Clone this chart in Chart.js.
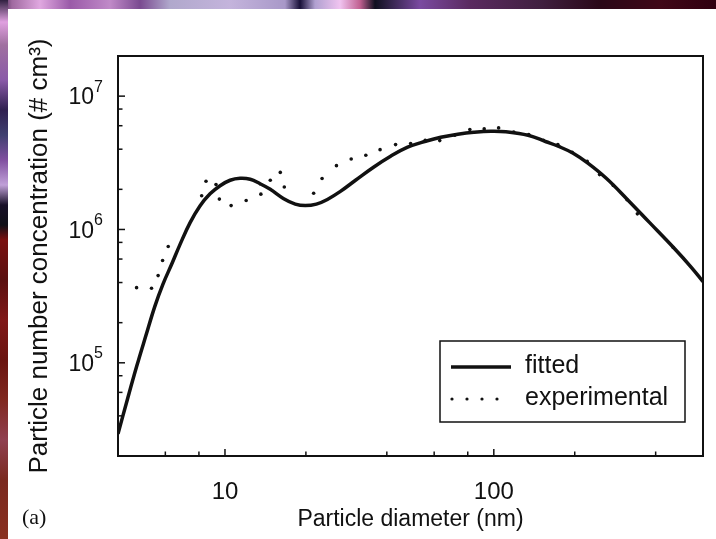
<!DOCTYPE html>
<html>
<head>
<meta charset="utf-8">
<script src="https://cdn.jsdelivr.net/npm/chart.js@4.4.1/dist/chart.umd.min.js"></script>
<style>
  html, body { margin: 0; padding: 0; }
  body {
    width: 716px; height: 539px; position: relative; overflow: hidden;
    background: #fff;
  }
  /* scanner edge along the top and left of the page */
  #edgeTop {
    position: absolute; left: 0; top: 0; width: 716px; height: 9px;
    background: linear-gradient(to right,
      #3a2048 0px, #a06aa0 12px, #e0a8e0 40px, #9a5aa8 70px, #c08ac8 110px, #7a4a90 140px,
      #b0a8cc 170px, #c4b4dc 230px, #a898c8 285px, #181038 300px, #b0a0d0 315px, #f0c4f0 340px,
      #c06090 360px, #101020 375px, #7a4aa0 420px, #5a2a60 470px, #402040 540px,
      #2a0818 600px, #400818 660px, #300010 716px);
  }
  #edgeLeft {
    position: absolute; left: 0; top: 0; width: 8px; height: 539px;
    background: linear-gradient(to bottom,
      #302040 0px, #e0a0e0 22px, #a070a0 45px, #8a5aa8 80px, #302050 110px, #404070 135px,
      #8050a0 160px, #c0a0d8 185px, #181028 205px, #101018 225px, #7a1010 240px,
      #5a1010 280px, #801818 320px, #6a1410 360px, #802820 400px, #904050 440px,
      #7a2a20 480px, #8a3020 539px);
  }
  #plot {
    position: absolute; left: 8px; top: 9px; width: 708px; height: 530px;
    background: #fff;
  }
</style>
</head>
<body>
<div id="edgeTop"></div>
<div id="edgeLeft"></div>
<div id="plot"><canvas id="sizeChart"></canvas></div>
<script>
// fitted size distribution (diameter in nm, number concentration in # cm^-3)
const fitDiameter = [4, 4.35, 4.7, 5.08, 5.48, 5.87, 6.35, 6.8, 7.41, 8.07, 8.8, 9.59, 10.45, 11.38,
    12.41, 13.52, 14.74, 16.48, 18.26, 19.9, 21.88, 24.04, 26.88, 30.59, 35.69, 41.31, 47.81,
    55.8, 63.47, 73.46, 84.26, 97.54, 110.9, 134.1, 156.5, 173.5, 197.3, 224.4, 262, 313.8,
    379.1, 466, 543.8, 600];
const fitConc = [2.93e4, 5.45e4, 9.49e4, 1.60e5, 2.64e5, 3.86e5, 5.55e5, 7.7e5, 1.12e6, 1.50e6,
    1.85e6, 2.13e6, 2.34e6, 2.42e6, 2.38e6, 2.20e6, 2.00e6, 1.71e6, 1.55e6, 1.51e6, 1.55e6,
    1.68e6, 1.93e6, 2.34e6, 2.93e6, 3.54e6, 4.14e6, 4.59e6, 4.92e6, 5.18e6, 5.36e6, 5.46e6,
    5.41e6, 5.09e6, 4.55e6, 4.21e6, 3.73e6, 3.13e6, 2.42e6, 1.68e6, 1.13e6, 7.32e5, 5.18e5,
    4.06e5];

// measured points
const expDiameter = [4.69, 5.33, 5.64, 5.86, 6.15, 8.19, 8.5, 9.26, 9.53, 10.54, 11.99, 13.6,
    14.74, 16.06, 16.62, 21.37, 22.97, 25.98, 29.48, 33.41, 37.75, 43.11, 49.05, 55.57, 62.93,
    71.6, 81.44, 92.1, 104.2, 118.6, 134.9, 152.9, 173.1, 195.6, 222.5, 247.4, 278.2, 313,
    342, 464.8];
const expConc = [3.66e5, 3.62e5, 4.51e5, 5.85e5, 7.45e5, 1.79e6, 2.30e6, 2.17e6, 1.69e6, 1.51e6,
    1.65e6, 1.84e6, 2.34e6, 2.68e6, 2.08e6, 1.87e6, 2.41e6, 3.01e6, 3.38e6, 3.60e6, 3.97e6,
    4.33e6, 4.41e6, 4.67e6, 4.64e6, 5.09e6, 5.62e6, 5.68e6, 5.78e6, 5.39e6, 5.15e6, 4.67e6,
    4.33e6, 3.79e6, 3.25e6, 2.58e6, 2.14e6, 1.67e6, 1.31e6, 7.32e5];

// axis ticks
const xMajorTicks = [10, 100];
const xMinorTicks = [6, 8, 20, 40, 60, 80, 200, 400];
const yMajorTicks = [1e5, 1e6, 1e7];
const yMinorTicks = [2e4, 4e4, 6e4, 8e4, 2e5, 4e5, 6e5, 8e5, 2e6, 4e6, 6e6, 8e6];

const SANS = "'Liberation Sans', Arial, Helvetica, sans-serif";
const INK = '#111';

// frame, inward tick marks, power-of-ten labels, boxed legend and panel letter
const framePlugin = {
    id: 'frame',
    afterDatasetsDraw(chart) {
        const { ctx, chartArea: a, scales } = chart;
        ctx.save();
        ctx.strokeStyle = INK;
        ctx.fillStyle = INK;
        ctx.lineWidth = 2;
        ctx.strokeRect(a.left, a.top, a.right - a.left, a.bottom - a.top);

        ctx.lineWidth = 1.5;
        const xtick = (vals, len) => {
            vals.forEach(v => {
                const x = scales.x.getPixelForValue(v);
                ctx.beginPath(); ctx.moveTo(x, a.bottom); ctx.lineTo(x, a.bottom - len); ctx.stroke();
            });
        };
        const ytick = (vals, len) => {
            vals.forEach(v => {
                const y = scales.y.getPixelForValue(v);
                ctx.beginPath(); ctx.moveTo(a.left, y); ctx.lineTo(a.left + len, y); ctx.stroke();
            });
        };
        xtick(xMajorTicks, 7); xtick(xMinorTicks, 4.5);
        ytick(yMajorTicks, 7); ytick(yMinorTicks, 4.5);

        // 10^n labels on the y axis with a raised exponent
        ctx.textBaseline = 'middle';
        ctx.textAlign = 'right';
        yMajorTicks.forEach(v => {
            const y = scales.y.getPixelForValue(v);
            const exp = String(Math.round(Math.log10(v)));
            const xr = a.left - 15;
            ctx.font = '16px ' + SANS;
            const ew = ctx.measureText(exp).width;
            ctx.fillText(exp, xr, y - 9);
            ctx.font = '23px ' + SANS;
            ctx.fillText('10', xr - ew, y + 2);
        });

        // legend box in the lower right corner
        const bw = 245, bh = 81;
        const bx = a.right - 18 - bw, by = a.bottom - 34 - bh;
        ctx.fillStyle = '#fff';
        ctx.fillRect(bx, by, bw, bh);
        ctx.lineWidth = 1.5;
        ctx.strokeRect(bx, by, bw, bh);

        const ds = chart.data.datasets;
        ctx.fillStyle = INK;
        ctx.font = '25px ' + SANS;
        ctx.textAlign = 'left';
        ctx.lineWidth = 3.5;
        ctx.beginPath(); ctx.moveTo(bx + 11, by + 26); ctx.lineTo(bx + 71, by + 26); ctx.stroke();
        ctx.fillText(ds[0].label, bx + 85, by + 25);
        for (let i = 0; i < 4; i++) {
            ctx.beginPath(); ctx.arc(bx + 12 + i * 15, by + 58, 1.6, 0, Math.PI * 2); ctx.fill();
        }
        ctx.fillText(ds[1].label, bx + 85, by + 57);

        ctx.font = "22px 'Liberation Serif', 'Times New Roman', serif";
        ctx.fillText('(a)', 14, 509);
        ctx.restore();
    }
};

const ctx = document.getElementById('sizeChart').getContext('2d');
new Chart(ctx, {
    type: 'line',
    data: {
        datasets: [
            {
                label: 'fitted',
                data: fitDiameter.map((d, i) => ({ x: d, y: fitConc[i] })),
                borderColor: INK,
                borderWidth: 3.5,
                pointRadius: 0,
                tension: 0.4,
                fill: false,
            },
            {
                label: 'experimental',
                data: expDiameter.map((d, i) => ({ x: d, y: expConc[i] })),
                showLine: false,
                pointRadius: 1.8,
                pointBackgroundColor: INK,
                pointBorderWidth: 0,
            },
        ],
    },
    options: {
        responsive: true,
        maintainAspectRatio: false,
        animation: false,
        layout: { padding: { left: 0, top: 47, right: 13, bottom: 0 } },
        plugins: { legend: { display: false }, tooltip: { enabled: false } },
        scales: {
            x: {
                type: 'logarithmic',
                min: 4,
                max: 600,
                grid: { display: false },
                border: { display: false },
                afterBuildTicks: (s) => { s.ticks = xMajorTicks.map(v => ({ value: v })); },
                afterFit: (s) => { s.height = 83; },
                ticks: {
                    color: INK,
                    font: { family: SANS, size: 24 },
                    padding: 14,
                    maxRotation: 0,
                    autoSkip: false,
                    callback: (v) => String(v),
                },
                title: {
                    display: true,
                    text: 'Particle diameter (nm)',
                    color: INK,
                    font: { family: SANS, size: 23 },
                    padding: { top: 0, bottom: 6 },
                },
            },
            y: {
                type: 'logarithmic',
                min: 2e4,
                max: 2e7,
                grid: { display: false },
                border: { display: false },
                afterFit: (s) => { s.width = 110; },
                ticks: { display: false },
                title: {
                    display: true,
                    text: 'Particle number concentration (# cm\u00b3)',
                    color: INK,
                    font: { family: SANS, size: 26 },
                    padding: { top: 16, bottom: 0 },
                },
            },
        },
    },
    plugins: [framePlugin],
});
</script>
</body>
</html>
